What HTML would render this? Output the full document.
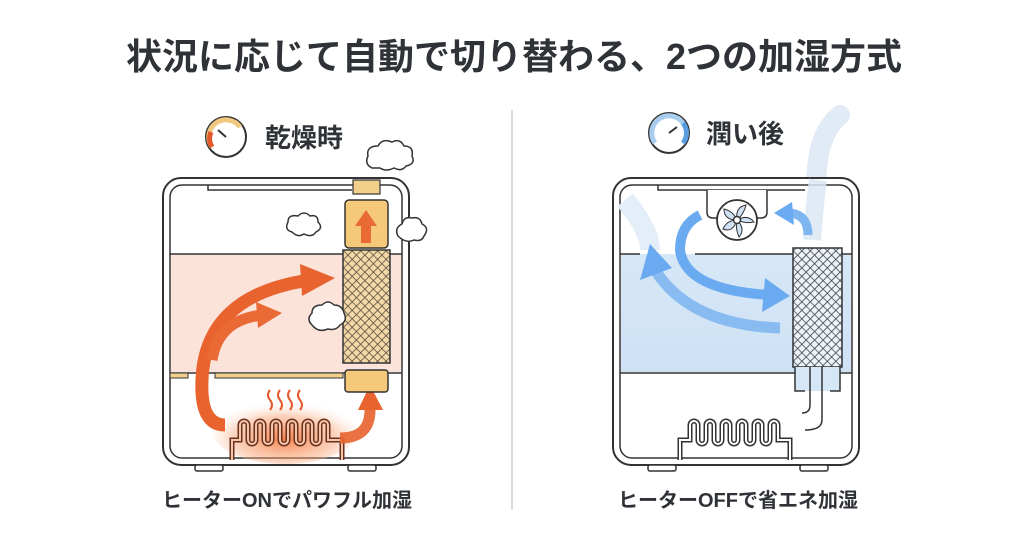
<!DOCTYPE html>
<html><head><meta charset="utf-8">
<style>
html,body{margin:0;padding:0;background:#fff;}
body{width:1024px;height:540px;overflow:hidden;font-family:"Liberation Sans","Noto Sans CJK JP",sans-serif;}
</style></head>
<body>
<svg width="1024" height="540" viewBox="0 0 1024 540" xmlns="http://www.w3.org/2000/svg">
<defs>
<pattern id="mesh" width="6" height="6" patternUnits="userSpaceOnUse" patternTransform="rotate(45)">
<rect width="6" height="6" fill="#f3d9a8"/>
<path d="M0 0H6M0 0V6" stroke="#5a4a3a" stroke-width="1.6"/>
</pattern>
<pattern id="mesh2" width="6" height="6" patternUnits="userSpaceOnUse" patternTransform="rotate(45)">
<rect width="6" height="6" fill="#eef3f8"/>
<path d="M0 0H6M0 0V6" stroke="#3a4048" stroke-width="1.6"/>
</pattern>
<radialGradient id="glow" cx="0.5" cy="0.6" r="0.6">
<stop offset="0" stop-color="#f26a2a" stop-opacity="0.85"/>
<stop offset="0.6" stop-color="#f7a070" stop-opacity="0.45"/>
<stop offset="1" stop-color="#fff" stop-opacity="0"/>
</radialGradient>
<linearGradient id="bw" x1="0" y1="0" x2="0" y2="1">
<stop offset="0" stop-color="#d6e7f7"/><stop offset="1" stop-color="#cfe2f5"/>
</linearGradient>
</defs>

<text x="514" y="69" text-anchor="middle" font-size="36" font-weight="bold" fill="#2f3236">状況に応じて自動で切り替わる、2つの加湿方式</text>
<line x1="512" y1="110" x2="512" y2="510" stroke="#cfcfcf" stroke-width="1.5"/>

<!-- LEFT -->
<g>
<circle cx="226" cy="137" r="20" fill="#fff" stroke="#333" stroke-width="2"/>
<path d="M212 147 A16 16 0 0 1 240 127" fill="none" stroke="#f0c880" stroke-width="5"/>
<path d="M212 147 A16 16 0 0 1 211 132" fill="none" stroke="#e2582a" stroke-width="5"/>
<line x1="226" y1="137" x2="218" y2="130" stroke="#333" stroke-width="2"/>
<text x="265" y="147" font-size="26" font-weight="bold" fill="#2f3236">乾燥時</text>

<rect x="163" y="178" width="246" height="287" rx="18" fill="#fff" stroke="#333" stroke-width="2"/>
<rect x="170" y="185" width="232" height="273" rx="12" fill="none" stroke="#333" stroke-width="1.5"/>
<rect x="171" y="254" width="230" height="118" fill="#fbe3da"/>
<line x1="170" y1="254" x2="402" y2="254" stroke="#333" stroke-width="1.5"/>
<line x1="170" y1="373" x2="402" y2="373" stroke="#333" stroke-width="1.5"/>
<rect x="215" y="373" width="128" height="5" fill="#f3d08a" stroke="#333" stroke-width="1"/>
<rect x="170" y="373" width="18" height="5" fill="#f3d08a" stroke="#333" stroke-width="1"/>
<path d="M208 185 V190 H352" fill="none" stroke="#333" stroke-width="1.5"/>
<rect x="353" y="180" width="27" height="14" fill="#f3d08a" stroke="#333" stroke-width="1.2"/>
<rect x="195" y="465" width="28" height="6" rx="2" fill="#fff" stroke="#333" stroke-width="1.5"/>
<rect x="348" y="465" width="28" height="6" rx="2" fill="#fff" stroke="#333" stroke-width="1.5"/>

<ellipse cx="285" cy="432" rx="72" ry="32" fill="url(#glow)"/>
<path d="M232 460 V440 H240 V425 a4 4 0 0 1 8 0 V440 a4 4 0 0 0 8 0 V425 a4 4 0 0 1 8 0 V440 a4 4 0 0 0 8 0 V425 a4 4 0 0 1 8 0 V440 a4 4 0 0 0 8 0 V425 a4 4 0 0 1 8 0 V440 a4 4 0 0 0 8 0 V425 a4 4 0 0 1 8 0 V440 a4 4 0 0 0 8 0 V425 a4 4 0 0 1 8 0 V440 H342 V460" fill="none" stroke="#6a3020" stroke-width="5"/>
<path d="M232 460 V440 H240 V425 a4 4 0 0 1 8 0 V440 a4 4 0 0 0 8 0 V425 a4 4 0 0 1 8 0 V440 a4 4 0 0 0 8 0 V425 a4 4 0 0 1 8 0 V440 a4 4 0 0 0 8 0 V425 a4 4 0 0 1 8 0 V440 a4 4 0 0 0 8 0 V425 a4 4 0 0 1 8 0 V440 a4 4 0 0 0 8 0 V425 a4 4 0 0 1 8 0 V440 H342 V460" fill="none" stroke="#f6c6a8" stroke-width="2"/>
<path d="M270 390 q-4 5 0 10 q4 5 0 10 M280 390 q-4 5 0 10 q4 5 0 10 M290 390 q-4 5 0 10 q4 5 0 10 M300 390 q-4 5 0 10 q4 5 0 10" fill="none" stroke="#e2582a" stroke-width="2"/>

<path d="M225 425 Q200 425 202 380 Q205 295 310 280" fill="none" stroke="#e8632e" stroke-width="13"/>
<polygon points="300,264 335,278 302,296" fill="#e8632e"/>
<path d="M212 360 Q218 320 262 315" fill="none" stroke="#ea6a35" stroke-width="11"/>
<polygon points="256,302 282,313 258,328" fill="#ea6a35"/>
<path d="M340 438 Q370 438 370 410" fill="none" stroke="#e8632e" stroke-width="11" opacity="0.9"/>
<polygon points="358,410 370,385 383,410" fill="#e8632e"/>

<rect x="345" y="200" width="43" height="48" rx="4" fill="#f6c879" stroke="#333" stroke-width="1.5"/>
<rect x="361" y="225" width="10" height="18" fill="#ea6a35"/>
<polygon points="355,226 366,210 377,226" fill="#ea6a35"/>
<rect x="343" y="250" width="47" height="113" fill="url(#mesh)" stroke="#333" stroke-width="1.5"/>
<rect x="345" y="370" width="43" height="22" rx="3" fill="#f6c879" stroke="#333" stroke-width="1.5"/>

<g fill="#fff" stroke="#333" stroke-width="1.5">
<path d="M372 168 q-8 -4 -4 -12 q-2 -10 10 -10 q4 -8 14 -4 q8 -4 12 4 q10 0 8 10 q4 8 -6 10 q-4 6 -12 2 q-8 4 -14 0 z"/>
<path d="M292 232 q-8 -2 -4 -10 q0 -8 10 -6 q6 -6 12 0 q8 -2 8 6 q6 6 -2 10 q-4 6 -12 2 q-6 4 -12 -2 z"/>
<path d="M398 236 q-4 -8 4 -12 q2 -8 10 -6 q8 -2 10 6 q8 4 2 12 q-2 6 -10 4 q-8 4 -16 -4 z"/>
<path d="M312 325 q-6 -6 0 -12 q0 -8 10 -8 q6 -6 12 0 q8 0 10 8 q4 8 -4 12 q-4 6 -12 4 q-10 4 -16 -4 z"/>
</g>

<text x="287" y="507" text-anchor="middle" font-size="20" font-weight="bold" fill="#2f3236">ヒーターONでパワフル加湿</text>
</g>

<!-- RIGHT -->
<g>
<circle cx="669" cy="133" r="20" fill="#fff" stroke="#333" stroke-width="2"/>
<path d="M655 143 A16 16 0 0 1 683 123" fill="none" stroke="#a9cdee" stroke-width="5"/>
<path d="M683 123 A16 16 0 0 1 683 143" fill="none" stroke="#5a9ee0" stroke-width="5"/>
<line x1="669" y1="133" x2="677" y2="127" stroke="#333" stroke-width="2"/>
<text x="706" y="143" font-size="26" font-weight="bold" fill="#2f3236">潤い後</text>

<path d="M812 235 Q815 185 818 160 Q822 130 840 115" fill="none" stroke="#dbe8f3" stroke-width="20" stroke-linecap="round" opacity="0.85"/>

<rect x="613" y="178" width="246" height="287" rx="18" fill="#fff" stroke="#333" stroke-width="2"/>
<rect x="620" y="185" width="232" height="273" rx="12" fill="none" stroke="#333" stroke-width="1.5"/>
<rect x="621" y="254" width="230" height="118" fill="url(#bw)"/>
<path d="M812 240 Q815 200 818 180" fill="none" stroke="#dbe8f3" stroke-width="18" opacity="0.85"/>
<path d="M625 200 Q650 230 650 250" fill="none" stroke="#e3eef8" stroke-width="20"/>
<line x1="620" y1="254" x2="640" y2="254" stroke="#333" stroke-width="1.5"/>
<line x1="695" y1="254" x2="852" y2="254" stroke="#333" stroke-width="1.5"/>
<line x1="620" y1="373" x2="852" y2="373" stroke="#333" stroke-width="1.5"/>
<path d="M658 185 V190 H805" fill="none" stroke="#333" stroke-width="1.5"/>
<path d="M707 190 V212 Q707 218 713 218 H761 Q767 218 767 212 V190" fill="#fff" stroke="#333" stroke-width="1.5"/>
<circle cx="737" cy="220" r="20" fill="#fff" stroke="#333" stroke-width="1.8"/>
<g fill="#cfe2f3" stroke="#333" stroke-width="1">
<path d="M737 220 q-2 -13 9 -15 q-2 9 -9 15z"/>
<path d="M737 220 q11 -6 17 2 q-8 2 -17 -2z"/>
<path d="M737 220 q9 9 2 17 q-4 -9 -2 -17z"/>
<path d="M737 220 q-4 13 -14 9 q4 -9 14 -9z"/>
<path d="M737 220 q-13 0 -13 -11 q9 2 13 11z"/>
</g>
<circle cx="737" cy="220" r="3.5" fill="#fff" stroke="#333" stroke-width="1.5"/>
<rect x="648" y="465" width="28" height="6" rx="2" fill="#fff" stroke="#333" stroke-width="1.5"/>
<rect x="800" y="465" width="28" height="6" rx="2" fill="#fff" stroke="#333" stroke-width="1.5"/>

<path d="M680 460 V440 H690 V425 a4 4 0 0 1 8 0 V440 a4 4 0 0 0 8 0 V425 a4 4 0 0 1 8 0 V440 a4 4 0 0 0 8 0 V425 a4 4 0 0 1 8 0 V440 a4 4 0 0 0 8 0 V425 a4 4 0 0 1 8 0 V440 a4 4 0 0 0 8 0 V425 a4 4 0 0 1 8 0 V440 a4 4 0 0 0 8 0 V425 a4 4 0 0 1 8 0 V440 H790 V460" fill="none" stroke="#333" stroke-width="5"/>
<path d="M680 460 V440 H690 V425 a4 4 0 0 1 8 0 V440 a4 4 0 0 0 8 0 V425 a4 4 0 0 1 8 0 V440 a4 4 0 0 0 8 0 V425 a4 4 0 0 1 8 0 V440 a4 4 0 0 0 8 0 V425 a4 4 0 0 1 8 0 V440 a4 4 0 0 0 8 0 V425 a4 4 0 0 1 8 0 V440 a4 4 0 0 0 8 0 V425 a4 4 0 0 1 8 0 V440 H790 V460" fill="none" stroke="#fff" stroke-width="2"/>

<path d="M700 215 Q680 225 680 250 Q685 290 770 295" fill="none" stroke="#6aaaf0" stroke-width="10"/>
<polygon points="765,278 790,296 762,312" fill="#6aaaf0"/>
<path d="M780 328 Q690 325 655 270" fill="none" stroke="#7fb6f0" stroke-width="11" opacity="0.9"/>
<polygon points="640,280 650,244 672,268" fill="#6aaaf0"/>
<path d="M808 235 Q808 215 790 213" fill="none" stroke="#7fb6f0" stroke-width="9"/>
<polygon points="792,202 774,213 794,225" fill="#6aaaf0"/>

<rect x="793" y="248" width="49" height="119" fill="url(#mesh2)" stroke="#333" stroke-width="1.5"/>
<rect x="795" y="367" width="45" height="24" fill="#d5e6f6" stroke="none"/>
<path d="M795 367 V391 H805 M840 367 V391 H830" fill="none" stroke="#333" stroke-width="1.5"/>
<path d="M810 367 V405 Q810 413 802 413 M822 367 V420 Q822 430 805 430" fill="none" stroke="#333" stroke-width="1.5"/>

<text x="738" y="507" text-anchor="middle" font-size="20" font-weight="bold" fill="#2f3236">ヒーターOFFで省エネ加湿</text>
</g>
</svg>
</body></html>
